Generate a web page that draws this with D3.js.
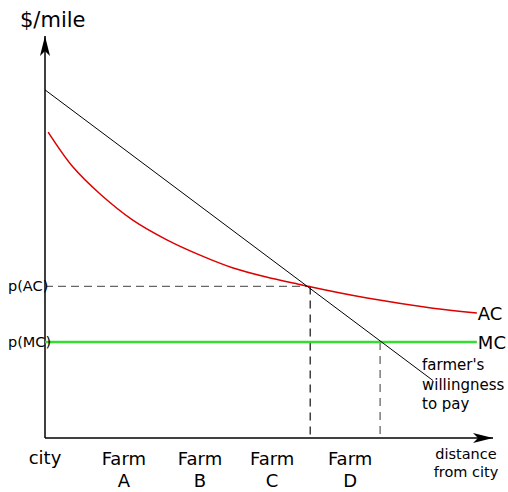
<!DOCTYPE html>
<html>
<head>
<meta charset="utf-8">
<script src="https://cdn.jsdelivr.net/npm/d3@7"></script>
<style>
  body { margin: 0; background: #fff; }
  text { font-family: "DejaVu Sans", sans-serif; fill: #000; }
</style>
</head>
<body>
<svg id="drawing_region"></svg>
<script>
// distance units (0 = city) and $/mile units
const wtpLine = [ {x: 0, y: 86.6}, {x: 86.6, y: 14.3} ];
const acCurve = [
    {x: 0.7, y: 76.1}, {x: 6.25, y: 67.4}, {x: 12.3, y: 60.7}, {x: 19.6, y: 54.2},
    {x: 27.2, y: 49.3}, {x: 34.6, y: 45.5}, {x: 42.0, y: 42.3}, {x: 49.6, y: 40.0},
    {x: 56.9, y: 38.2}, {x: 59.2, y: 37.6}, {x: 71.9, y: 34.8}, {x: 86.6, y: 32.3},
    {x: 96.4, y: 31.1}
];
const pAC = 37.7;
const pMC = 23.9;
const qAC = 59.2;   // where willingness meets AC
const qMC = 74.8;   // where willingness meets MC
const curveEnd = 96.4;
const farms = ['A', 'B', 'C', 'D'];
const farmPos = [17.6, 34.6, 50.7, 68.1];
const wtpLabel = ["farmer's", 'willingness', 'to pay'];

const width = 508, height = 492;
const svg = d3.select('#drawing_region')
    .attr('width', width)
    .attr('height', height);

const xscale = d3.scaleLinear().domain([0, 100]).range([45, 493]);
const yscale = d3.scaleLinear().domain([0, 100]).range([438, 36]);

// arrow heads
const defs = svg.append('defs');
defs.append('marker')
    .attr('id', 'arrow')
    .attr('viewBox', '0 0 20 12')
    .attr('refX', 20).attr('refY', 6)
    .attr('markerWidth', 20).attr('markerHeight', 12)
    .attr('markerUnits', 'userSpaceOnUse')
    .attr('orient', 'auto')
    .append('path')
    .attr('d', 'M0,1 L20,6 L0,11 L5,6 Z')
    .attr('fill', '#000');

// axes
svg.append('line')
    .attr('x1', xscale(0)).attr('y1', yscale(0))
    .attr('x2', xscale(0)).attr('y2', yscale(100))
    .attr('stroke', '#000').attr('stroke-width', 1.5)
    .attr('marker-end', 'url(#arrow)');
svg.append('line')
    .attr('x1', xscale(0)).attr('y1', yscale(0))
    .attr('x2', xscale(100)).attr('y2', yscale(0))
    .attr('stroke', '#000').attr('stroke-width', 1.5)
    .attr('marker-end', 'url(#arrow)');

// dashed guides
svg.append('line')
    .attr('x1', xscale(0)).attr('y1', yscale(pAC))
    .attr('x2', xscale(qAC)).attr('y2', yscale(pAC))
    .attr('stroke', '#666').attr('stroke-width', 1.3)
    .attr('stroke-dasharray', '8,5');
svg.append('line')
    .attr('x1', xscale(qAC)).attr('y1', yscale(pAC))
    .attr('x2', xscale(qAC)).attr('y2', yscale(0))
    .attr('stroke', '#222').attr('stroke-width', 1.3)
    .attr('stroke-dasharray', '8,6');
svg.append('line')
    .attr('x1', xscale(qMC)).attr('y1', yscale(pMC))
    .attr('x2', xscale(qMC)).attr('y2', yscale(0))
    .attr('stroke', '#666').attr('stroke-width', 1.3)
    .attr('stroke-dasharray', '8,6');

// MC
svg.append('line')
    .attr('x1', xscale(0)).attr('y1', yscale(pMC))
    .attr('x2', xscale(curveEnd)).attr('y2', yscale(pMC))
    .attr('stroke', '#33dd33').attr('stroke-width', 2.5);

// AC
const line = d3.line()
    .x(d => xscale(d.x))
    .y(d => yscale(d.y))
    .curve(d3.curveCatmullRom);
svg.append('path')
    .datum(acCurve)
    .attr('d', line)
    .attr('fill', 'none')
    .attr('stroke', '#dd0000').attr('stroke-width', 1.5);

// willingness to pay
svg.append('path')
    .datum(wtpLine)
    .attr('d', d3.line().x(d => xscale(d.x)).y(d => yscale(d.y)))
    .attr('fill', 'none')
    .attr('stroke', '#000').attr('stroke-width', 1);

// labels
svg.append('text')
    .attr('x', 20).attr('y', 27)
    .attr('font-size', 21)
    .text('$/mile');

svg.selectAll('.plabel')
    .data([['p(AC)', pAC], ['p(MC)', pMC]])
    .enter().append('text')
    .attr('class', 'plabel')
    .attr('x', 8)
    .attr('y', d => yscale(d[1]) + 5)
    .attr('font-size', 14.5)
    .text(d => d[0]);

svg.selectAll('.clabel')
    .data([['AC', 31.1], ['MC', pMC]])
    .enter().append('text')
    .attr('class', 'clabel')
    .attr('x', xscale(curveEnd) + 1)
    .attr('y', d => yscale(d[1]) + 7)
    .attr('font-size', 18)
    .text(d => d[0]);

svg.selectAll('.wlabel')
    .data(wtpLabel)
    .enter().append('text')
    .attr('class', 'wlabel')
    .attr('x', 422)
    .attr('y', (d, i) => 370 + i * 19.5)
    .attr('font-size', 15)
    .text(d => d);

svg.append('text')
    .attr('x', xscale(0)).attr('y', 464)
    .attr('text-anchor', 'middle')
    .attr('font-size', 18)
    .text('city');

const farmG = svg.selectAll('.farm')
    .data(farms)
    .enter().append('text')
    .attr('class', 'farm')
    .attr('text-anchor', 'middle')
    .attr('font-size', 18);
farmG.append('tspan')
    .attr('x', (d, i) => xscale(farmPos[i])).attr('y', 465)
    .text('Farm');
farmG.append('tspan')
    .attr('x', (d, i) => xscale(farmPos[i])).attr('y', 487)
    .text(d => d);

svg.selectAll('.dlabel')
    .data(['distance', 'from city'])
    .enter().append('text')
    .attr('class', 'dlabel')
    .attr('x', 466)
    .attr('y', (d, i) => 459 + i * 18)
    .attr('text-anchor', 'middle')
    .attr('font-size', 14.5)
    .text(d => d);
</script>
</body>
</html>
